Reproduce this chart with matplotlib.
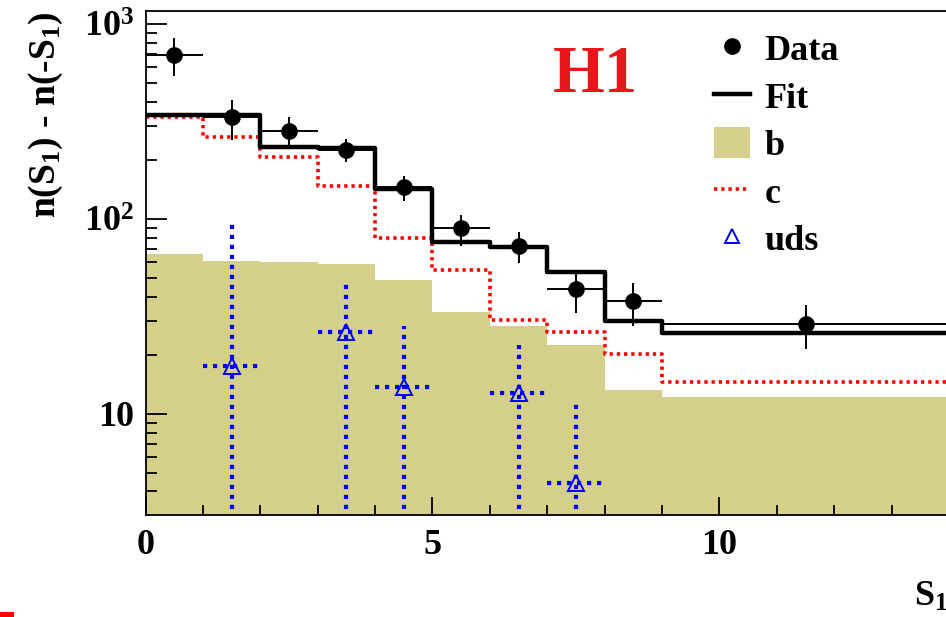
import matplotlib
matplotlib.use("Agg")
import matplotlib.pyplot as plt
from matplotlib.lines import Line2D
from matplotlib.patches import Patch, Rectangle
from matplotlib.ticker import LogLocator, FixedLocator, MultipleLocator, FuncFormatter
import numpy as np

plt.rcParams["font.family"] = "Liberation Serif"
plt.rcParams["font.weight"] = "bold"
plt.rcParams["mathtext.fontset"] = "custom"
plt.rcParams["mathtext.rm"] = "Liberation Serif:bold"
plt.rcParams["mathtext.it"] = "Liberation Serif:bold"
plt.rcParams["mathtext.bf"] = "Liberation Serif:bold"

# bin edges of S1
edges = [0, 1, 2, 3, 4, 5, 6, 7, 8, 9, 14]

# fitted templates (per bin)
fit_vals = [341, 341, 235, 231, 143, 76.5, 72, 53.7, 30, 26.1]
c_vals = [332, 264, 209, 147, 79.6, 54.7, 30.3, 26.2, 20.2, 14.5]
b_vals = [66, 61, 60, 58.6, 48.6, 33.5, 28.3, 22.6, 13.3, 12.2]

# data points
data_x = [0.5, 1.5, 2.5, 3.5, 4.5, 5.5, 6.5, 7.5, 8.5, 11.5]
data_y = [695, 332, 282, 226, 145, 89.5, 72.8, 43.8, 37.9, 28.8]
data_up = [851, 408, 333, 256, 166, 105, 85.5, 52.6, 47.1, 36.2]
data_lo = [541, 254, 238, 195, 124, 73, 59.3, 33.1, 28.4, 21.5]
data_xlo = [0.5, 0.5, 0.5, 0.5, 0.5, 0.5, 0.5, 0.5, 0.5, 2.5]
data_xhi = [0.5, 0.5, 0.5, 0.5, 0.5, 0.5, 0.5, 0.5, 0.5, 2.5]

# uds points
uds_x = [1.5, 3.5, 4.5, 6.5, 7.5]
uds_y = [17.7, 26.2, 13.8, 12.8, 4.4]
uds_up = [96, 48.3, 28.3, 22.6, 11.8]
uds_lo = [1, 1, 1, 1, 1]

khaki = "#d4cf8a"

fig = plt.figure(figsize=(9.46, 6.17), dpi=100)
ax = fig.add_axes([145.5 / 946, 102 / 617, (949 - 145.5) / 946, (515 - 10.7) / 617])

b_step = b_vals + [b_vals[-1]]
ax.fill_between(edges, 1e-3, b_step, step="post", color=khaki, lw=0, zorder=1)

ax.step(edges, c_vals + [c_vals[-1]], where="post", color="#ff0000", lw=2.6,
        linestyle=(0, (0.9, 1.1)), zorder=2)
ax.step(edges, fit_vals + [fit_vals[-1]], where="post", color="black", lw=3.2, zorder=3)

yerr = [np.array(data_y) - np.array(data_lo), np.array(data_up) - np.array(data_y)]
ax.errorbar(data_x, data_y, yerr=yerr, xerr=[data_xlo, data_xhi], fmt="o", color="black",
            ms=11, elinewidth=1.4, capsize=0, zorder=5)

uerr = [np.array(uds_y) - np.array(uds_lo), np.array(uds_up) - np.array(uds_y)]
eb = ax.errorbar(uds_x, uds_y, yerr=uerr, xerr=0.5, fmt="none", ecolor="#0000ff",
                 elinewidth=3.0, capsize=0, zorder=4)
for lc in eb[2]:
    lc.set_linestyle((0, (1.0, 1.4)))
ax.plot(uds_x, uds_y, linestyle="none", marker="^", ms=11, mfc="none", mec="#0000ff",
        mew=1.4, zorder=6)

ax.set_yscale("log")
ax.set_xlim(0, 14)
ax.set_ylim(3.03, 1170)

ax.xaxis.set_major_locator(FixedLocator([0, 5, 10]))
ax.xaxis.set_minor_locator(MultipleLocator(1))
ax.yaxis.set_major_locator(FixedLocator([10, 100, 1000]))
ax.yaxis.set_minor_locator(LogLocator(base=10, subs=np.arange(2, 10)))
ax.yaxis.set_minor_formatter(FuncFormatter(lambda v, p: ""))
ylabels = {10: "10", 100: r"$\mathrm{10^{2}}$", 1000: r"$\mathrm{10^{3}}$"}
ax.yaxis.set_major_formatter(FuncFormatter(lambda v, p: ylabels.get(int(round(v)), "")))

ax.tick_params(which="both", direction="in", top=False, right=False, labelsize=26, width=1.3)
ax.tick_params(axis="y", which="major", length=15, pad=8)
ax.tick_params(axis="y", which="minor", length=8)
ax.tick_params(axis="x", which="major", length=13, pad=10)
ax.tick_params(axis="x", which="minor", length=7)
for s in ax.spines.values():
    s.set_linewidth(1.3)

fig.text(46 / 946, 1 - 12 / 617, r"n(S$_{1}$) - n(-S$_{1}$)", rotation=90,
         ha="center", va="top", fontsize=27)
fig.text(948 / 946, 3 / 617, r"S$_{1}$", ha="right", va="bottom", fontsize=26)

fig.text(595 / 946, 1 - 76 / 617, "H1", color="#e8161a", fontsize=48, ha="center",
         va="center", fontweight="bold")

handles = [
    Line2D([], [], marker="o", color="black", linestyle="none", ms=11),
    Line2D([], [], color="black", lw=3.2),
    Patch(facecolor=khaki, edgecolor="none"),
    Line2D([], [], color="#ff0000", lw=2.6, linestyle=(0, (0.9, 1.1))),
    Line2D([], [], marker="^", linestyle="none", ms=10, mfc="none", mec="#0000ff", mew=1.4),
]
labels = ["Data", "Fit", "b", "c", "uds"]
ax.legend(handles, labels, loc="upper left", bbox_to_anchor=(714 / 946, 1 - 32 / 617),
          bbox_transform=fig.transFigure, frameon=False, fontsize=26, handlelength=1.0,
          handleheight=0.95, handletextpad=0.4, labelspacing=0.32, borderaxespad=0,
          borderpad=0)

# small red mark at the lower-left corner of the page
fig.patches.append(Rectangle((0, 0), 14 / 946, 5 / 617, transform=fig.transFigure,
                             facecolor="#ff0000", edgecolor="none"))

fig.savefig("out.png", dpi=100)
